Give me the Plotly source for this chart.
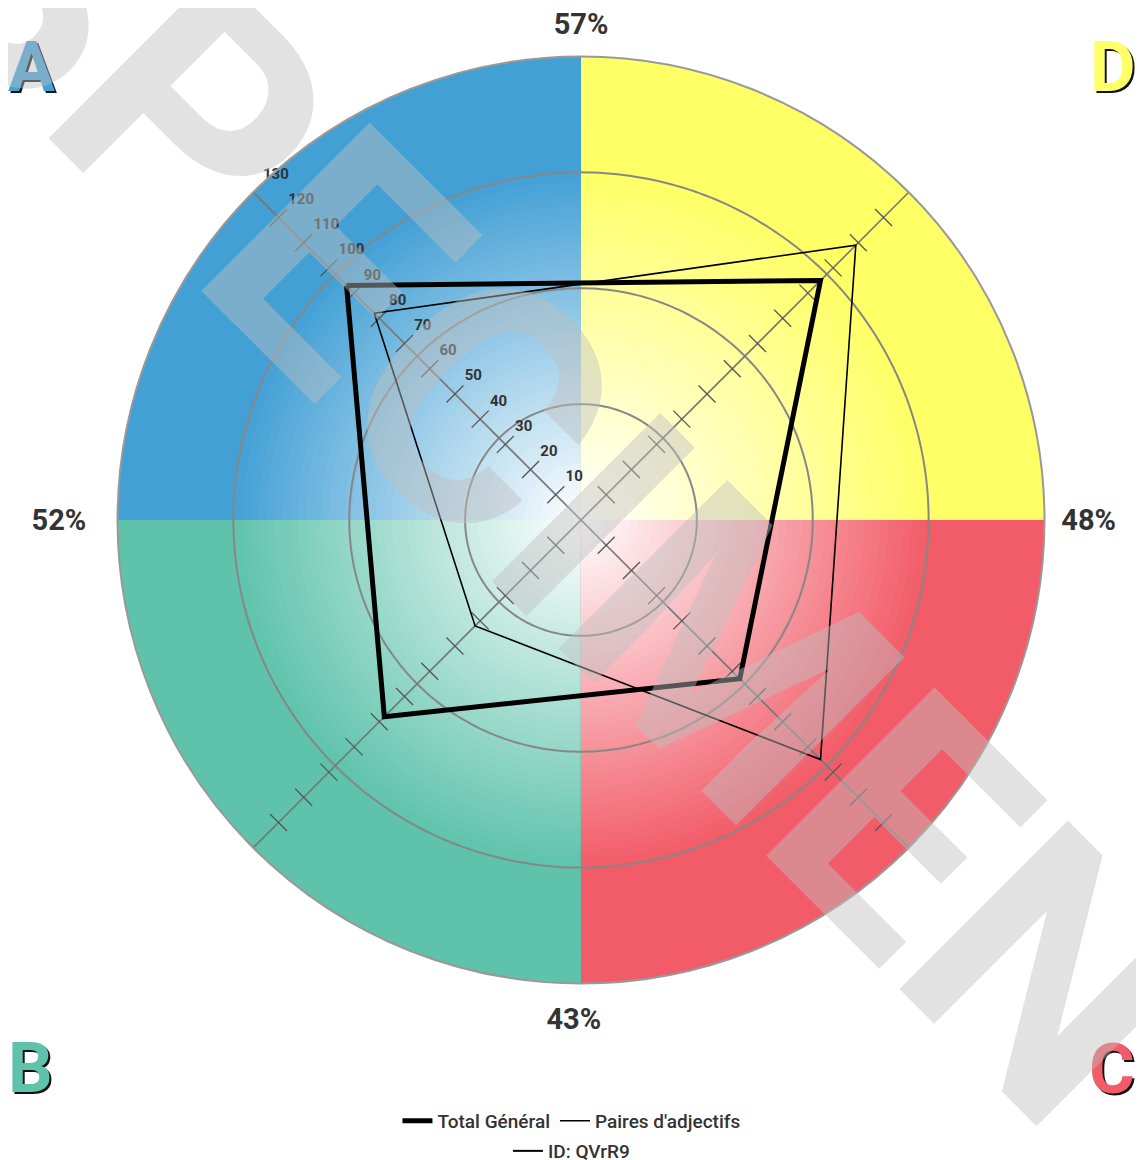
import numpy as np
import plotly.graph_objects as go

# ---------------- data ----------------
categories = ["A", "B", "C", "D"]
category_angles = [135, 225, 315, 45]
total_general = [93, 78, 63, 95]
paires_adjectifs = [82, 42, 95, 109]
percent_angles = [90, 180, 270, 0]
percent_labels = ["57%", "52%\u00a0\u00a0", "43%\u00a0\u00a0", "48%"]
radial_ticks = list(range(10, 131, 10))
grid_rings = [32.5, 65, 97.5]
r_max = 130
label_axis_angle = 135
quadrant_colors = {"A": (67, 160, 213), "B": (95, 195, 172),
                   "C": (242, 91, 104), "D": (255, 255, 102)}
letter_pos = {"A": (0.0207, 0.9488), "D": (0.9727, 0.9488),
              "B": (0.0202, 0.0799), "C": (0.9718, 0.0790)}

FONT = "Roboto"
fig = go.Figure()

# ---------------- background quadrants with radial gradient ----------------
n_steps = 60
radii = np.linspace(r_max, 0.5, n_steps)
fade_r = grid_rings[-1]
for cat, ang in zip(categories, category_angles):
    col = quadrant_colors[cat]
    colors = []
    for i, r in enumerate(radii):
        r_next = radii[i + 1] if i + 1 < len(radii) else 0
        t = min(1.0, ((r + r_next) / 2) / fade_r)
        c = [round(255 - t * (255 - v)) for v in col]
        colors.append(f"rgb({c[0]},{c[1]},{c[2]})")
    fig.add_trace(go.Barpolar(
        r=radii, theta=[ang] * len(radii), width=[90] * len(radii),
        base=[0] * len(radii),
        marker=dict(color=colors, line=dict(width=0)),
        showlegend=False, hoverinfo="skip"))

# ---------------- grid rings ----------------
circle_theta = np.linspace(0, 360, 361)
for gr in grid_rings:
    fig.add_trace(go.Scatterpolar(
        r=[gr] * len(circle_theta), theta=circle_theta, mode="lines",
        line=dict(color="rgba(135,135,135,1)", width=2),
        showlegend=False, hoverinfo="skip"))

# ---------------- diagonal axes with crossing ticks ----------------
for a1, a2, sym in [(135, 315, "line-ne"), (45, 225, "line-nw")]:
    fig.add_trace(go.Scatterpolar(
        r=[r_max, 0, r_max], theta=[a1, a1, a2], mode="lines",
        line=dict(color="#777777", width=1.6),
        showlegend=False, hoverinfo="skip"))
    for a in (a1, a2):
        fig.add_trace(go.Scatterpolar(
            r=radial_ticks, theta=[a] * len(radial_ticks), mode="markers",
            marker=dict(symbol=sym, size=17,
                        line=dict(color="#555555", width=1.3)),
            showlegend=False, hoverinfo="skip"))

# tick labels along the upper-left axis
fig.add_trace(go.Scatterpolar(
    r=radial_ticks, theta=[label_axis_angle] * len(radial_ticks),
    mode="markers+text", text=[str(v) for v in radial_ticks],
    textposition="top right",
    marker=dict(size=14, color="rgba(0,0,0,0)"),
    textfont=dict(family=FONT, size=15, color="#333333", weight="bold"),
    showlegend=False, hoverinfo="skip"))

# ---------------- series ----------------
fig.add_trace(go.Scatterpolar(
    r=total_general + total_general[:1],
    theta=category_angles + category_angles[:1],
    mode="lines", name="Total Général",
    line=dict(color="black", width=5), legend="legend"))
fig.add_trace(go.Scatterpolar(
    r=paires_adjectifs + paires_adjectifs[:1],
    theta=category_angles + category_angles[:1],
    mode="lines", name="Paires d'adjectifs",
    line=dict(color="black", width=1.6), legend="legend"))
fig.add_trace(go.Scatterpolar(
    r=[None], theta=[None], mode="lines", name="ID: QVrR9",
    line=dict(color="black", width=2), legend="legend2"))

# ---------------- annotations ----------------
annotations = []
for cat in ["A", "D", "B", "C"]:
    x, y = letter_pos[cat]
    col = quadrant_colors[cat]
    annotations.append(dict(
        text=cat, x=x, y=y, xref="paper", yref="paper", showarrow=False,
        xanchor="center", yanchor="middle", xshift=2, yshift=-2,
        font=dict(family=FONT, size=70, color="#111111", weight="bold")))
    annotations.append(dict(
        text=cat, x=x, y=y, xref="paper", yref="paper", showarrow=False,
        xanchor="center", yanchor="middle",
        font=dict(family=FONT, size=70,
                  color=f"rgb({col[0]},{col[1]},{col[2]})", weight="bold")))

annotations.append(dict(
    text="SPECIMEN", x=0.478, y=0.592, xref="paper", yref="paper",
    showarrow=False, textangle=45, xanchor="center", yanchor="middle",
    font=dict(family=FONT, size=335, color="rgba(190,190,190,0.45)",
              weight="bold")))

fig.update_layout(
    width=1136, height=1152,
    margin=dict(l=0, r=0, t=0, b=0, autoexpand=False),
    paper_bgcolor="white",
    font=dict(family=FONT, color="#333333"),
    hovermode=False,
    polar=dict(
        domain=dict(x=[0.09639, 0.91241], y=[0.15321, 0.95790]),
        bgcolor="rgba(0,0,0,0)",
        barmode="overlay",
        radialaxis=dict(
            range=[0, r_max], showticklabels=False,
            showgrid=False, showline=False, ticks="", angle=135),
        angularaxis=dict(
            tickvals=percent_angles, ticktext=percent_labels,
            showgrid=False, ticks="outside", ticklen=10,
            tickcolor="rgba(0,0,0,0)", showline=True,
            linecolor="#999999", linewidth=2,
            tickfont=dict(family=FONT, size=29, color="#333333",
                          weight="bold")),
    ),
    legend=dict(orientation="h", x=0.496, xanchor="center", y=0.0339,
                yanchor="middle", font=dict(family=FONT, size=19,
                                            color="#333333", weight=500),
                bgcolor="rgba(0,0,0,0)", itemwidth=30, tracegroupgap=0),
    legend2=dict(orientation="h", x=0.496, xanchor="center", y=0.0078,
                 yanchor="middle", font=dict(family=FONT, size=19,
                                             color="#333333", weight=500),
                 bgcolor="rgba(0,0,0,0)", itemwidth=30),
    annotations=annotations,
)

fig.write_html("out.html")
